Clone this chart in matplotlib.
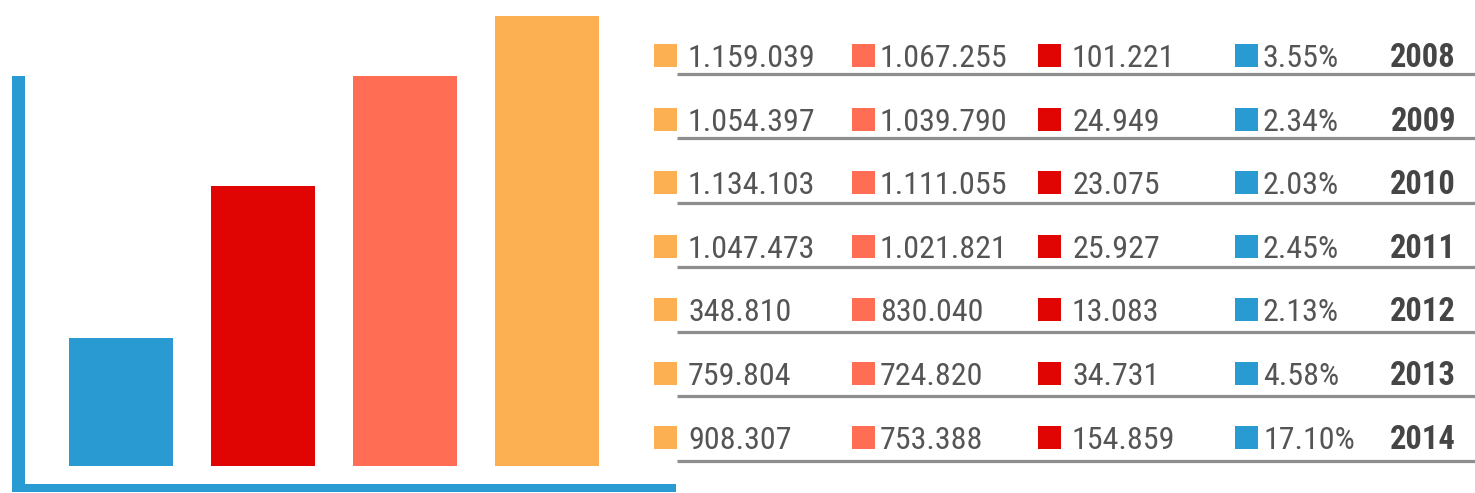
#!/usr/bin/env python3
"""Decorative bar chart with a yearly figures table on the right."""

import matplotlib

matplotlib.use("Agg")
import matplotlib.pyplot as plt  # noqa: E402
from matplotlib.patches import Rectangle  # noqa: E402

# --- data ---------------------------------------------------------------
BAR_HEIGHTS = [128, 280, 390, 450]  # relative heights
YEARS = ["2008", "2009", "2010", "2011", "2012", "2013", "2014"]
COL_A = ["1.159.039", "1.054.397", "1.134.103", "1.047.473", "348.810", "759.804", "908.307"]
COL_B = ["1.067.255", "1.039.790", "1.111.055", "1.021.821", "830.040", "724.820", "753.388"]
COL_C = ["101.221", "24.949", "23.075", "25.927", "13.083", "34.731", "154.859"]
COL_D = ["3.55%", "2.34%", "2.03%", "2.45%", "2.13%", "4.58%", "17.10%"]

BLUE = "#2a9ad3"
RED = "#e00402"
SALMON = "#ff6d55"
ORANGE = "#fdb052"
BAR_COLORS = [BLUE, RED, SALMON, ORANGE]
TEXT = "#555555"
YEAR_TEXT = "#454545"
RULE = "#8e8e8e"
FONT = ["Roboto Condensed", "DejaVu Sans"]

W, H = 1475, 493

fig = plt.figure(figsize=(W / 100, H / 100), dpi=100)

# overlay in pixel coordinates for the frame and the table
ov = fig.add_axes([0, 0, 1, 1])
ov.set_xlim(0, W)
ov.set_ylim(H, 0)
ov.axis("off")
ov.patch.set_alpha(0)

# blue L-shaped frame
ov.add_patch(Rectangle((12, 76), 13, 416, color=BLUE, lw=0))
ov.add_patch(Rectangle((12, 484), 664, 8, color=BLUE, lw=0))

# --- table ---
columns = [(COL_A, ORANGE, 654, 688), (COL_B, SALMON, 852, 880),
           (COL_C, RED, 1038, 1072), (COL_D, BLUE, 1235, 1263)]
for i, year in enumerate(YEARS):
    yc = 55.5 + 63.6 * i
    base = yc + 11.5
    for values, color, mx, tx in columns:
        ov.add_patch(Rectangle((mx, yc - 11.5), 23, 23, color=color, lw=0))
        ov.text(tx, base, values[i], fontsize=23, color=TEXT, family=FONT,
                ha="left", va="baseline")
    ov.text(1456, base, year, fontsize=23.5, color=YEAR_TEXT, family=FONT,
            fontweight="bold", ha="right", va="baseline")
    yl = 73.5 + 64.5 * i
    ov.plot([677, W], [yl, yl], color=RULE, lw=2.3, solid_capstyle="butt")

# --- bars ---
ax = fig.add_axes([25 / W, (H - 484) / H, (676 - 25) / W, (484 - 16) / H])
ax.patch.set_alpha(0)
ax.bar(range(len(BAR_HEIGHTS)), BAR_HEIGHTS, width=104 / 142, color=BAR_COLORS)
ax.set_xlim(-96 / 142, 3 + 129 / 142)
ax.set_ylim(-18, 450)
ax.axis("off")

fig.savefig("out.png", dpi=100)
